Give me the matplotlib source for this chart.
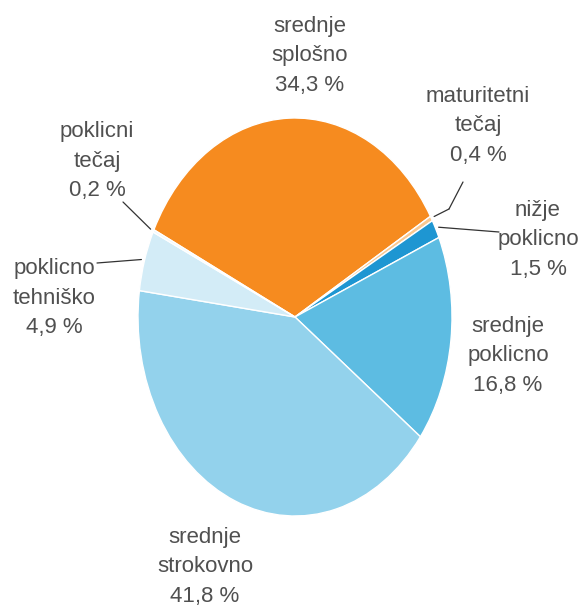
import numpy as np
import matplotlib
matplotlib.use("Agg")
import matplotlib.pyplot as plt

categories = ["srednje\nsplošno", "maturitetni\ntečaj", "nižje\npoklicno", "srednje\npoklicno",
              "srednje\nstrokovno", "poklicno\ntehniško", "poklicni\ntečaj"]
values = [34.3, 0.4, 1.5, 16.8, 41.8, 4.9, 0.2]
value_labels = ["34,3 %", "0,4 %", "1,5 %", "16,8 %", "41,8 %", "4,9 %", "0,2 %"]
colors = ["#F68B1F", "#F9C890", "#1E96D2", "#5DBCE2", "#93D2EC", "#D3ECF7", "#EEF7FC"]

plt.rcParams['font.family'] = ['Liberation Sans', 'DejaVu Sans']

W, H = 587, 606
fig = plt.figure(figsize=(W / 100, H / 100), dpi=100)
ax = fig.add_axes([138 / W, 90 / H, 314 / W, 398 / H])
wedges, _ = ax.pie(values, colors=colors, startangle=154, counterclock=False,
                   wedgeprops=dict(edgecolor="white", linewidth=1.0))
ax.set_aspect('auto')
ax.set_xlim(-1, 1)
ax.set_ylim(-1, 1)
ax.axis('off')

# label positions (figure pixels, from bottom-left) and leader line start points
label_pos = [(310, 550), (478, 480), (538, 366), (508, 250), (205, 39), (54, 308), (97, 445)]
leader_start = [None, (463, 424), (499, 374), None, None, (97, 343), (123, 404)]
leader_elbow = [None, (449, 397), None, None, None, None, None]

text_color = "#505050"
for i, w in enumerate(wedges):
    x, y = label_pos[i]
    fig.text(x / W, y / H, f"{categories[i]}\n{value_labels[i]}", ha="center", va="center",
             fontsize=16, color=text_color, linespacing=1.55)
    if leader_start[i] is not None:
        mid = np.deg2rad((w.theta1 + w.theta2) / 2)
        ex, ey = 1.02 * np.cos(mid), 1.02 * np.sin(mid)
        start = leader_start[i]
        if leader_elbow[i] is not None:
            ax.annotate("", xy=leader_elbow[i], xycoords="figure pixels",
                        xytext=start, textcoords="figure pixels",
                        arrowprops=dict(arrowstyle="-", color="#333333", lw=0.9,
                                        shrinkA=0, shrinkB=0))
            start = leader_elbow[i]
        ax.annotate("", xy=(ex, ey), xycoords="data",
                    xytext=start, textcoords="figure pixels",
                    arrowprops=dict(arrowstyle="-", color="#333333", lw=0.9,
                                    shrinkA=0, shrinkB=0))

fig.savefig("out.png", dpi=100, facecolor="white")
